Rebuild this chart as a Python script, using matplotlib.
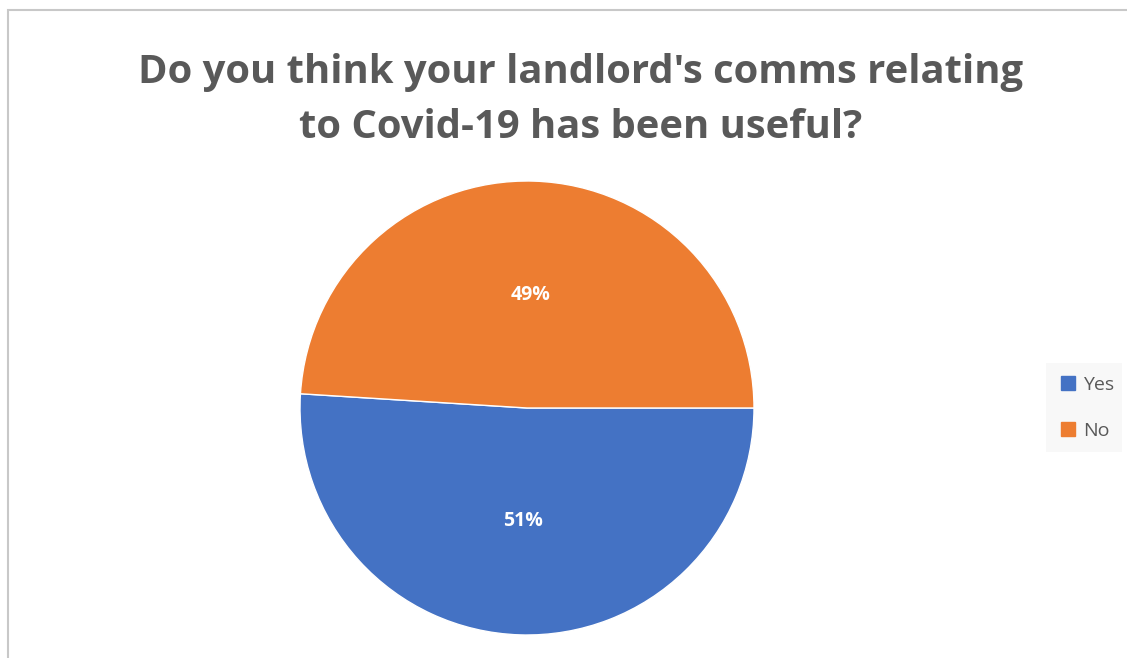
import matplotlib.pyplot as plt
from matplotlib.patches import Rectangle
from matplotlib.lines import Line2D

# Survey answers
labels = ["Yes", "No"]
shares = [51, 49]
colors = ["#4472C4", "#ED7D31"]

title = "Do you think your landlord's comms relating\nto Covid-19 has been useful?"

W, H = 1127, 658
fig = plt.figure(figsize=(W / 100, H / 100), dpi=100)
fig.patch.set_facecolor("white")

# Chart area frame (top and left edges visible)
fig.patches.append(Rectangle((8 / W, -0.1), 1.2, (H - 10) / H + 0.1,
                             transform=fig.transFigure, fill=False,
                             edgecolor="#c8c8c8", linewidth=1.5))

fig.text(581 / W, 1 - 100 / H, title, ha="center", va="center",
         fontsize=28.8, fontweight="bold", color="#595959",
         family="Open Sans", linespacing=1.55)

# Pie placed so its radius is 227 px around (527, 408)
r = 227
ax = fig.add_axes([(527 - r) / W, (H - 408 - r) / H, 2 * r / W, 2 * r / H])
wedges, texts, autotexts = ax.pie(
    shares, colors=colors, startangle=0, counterclock=False,
    autopct=lambda p: f"{p:.0f}%", pctdistance=0.5,
    wedgeprops=dict(edgecolor="white", linewidth=1),
    textprops=dict(color="white", fontsize=14, fontweight="bold",
                   family="Open Sans"))
ax.set_xlim(-1, 1)
ax.set_ylim(-1, 1)
ax.set_aspect("equal")
ax.axis("off")

# Legend with light grey background
fig.patches.append(Rectangle((1046 / W, 1 - 452 / H), 76 / W, 89 / H,
                             transform=fig.transFigure, facecolor="#f8f8f8",
                             edgecolor="none"))
handles = [Line2D([], [], marker="s", linestyle="none", markersize=10,
                  markerfacecolor=c, markeredgecolor=c) for c in colors]
fig.legend(handles, labels, loc="center left",
           bbox_to_anchor=(1050 / W, 1 - 408 / H), frameon=False,
           labelcolor="#595959", handletextpad=0.3,
           labelspacing=1.45, borderpad=0, handlelength=0.9,
           prop=dict(family="Open Sans", size=14))

fig.savefig("out.png", dpi=100)
